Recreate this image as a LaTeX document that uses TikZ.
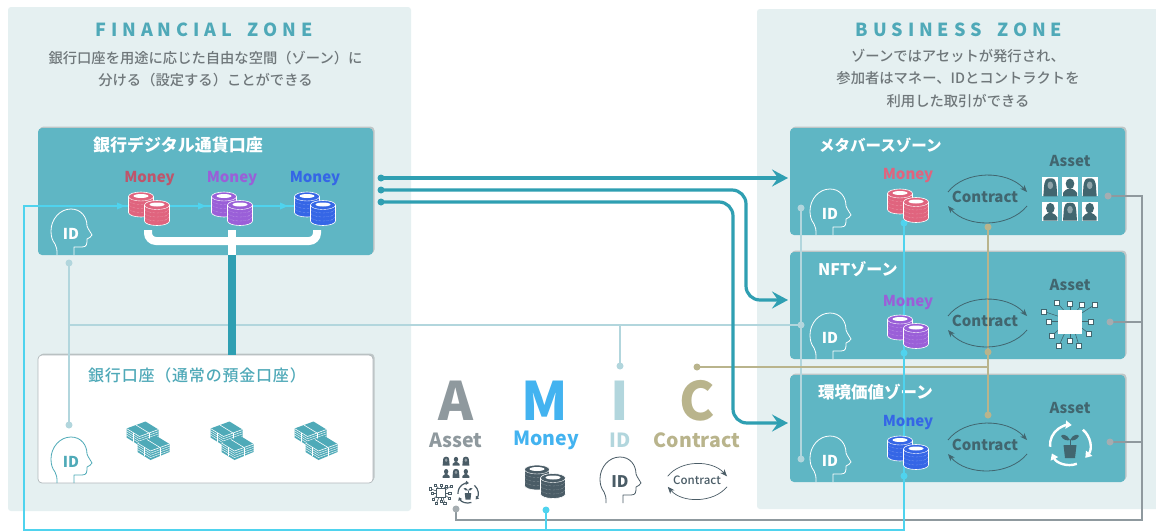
\documentclass[tikz,border=0pt]{standalone}
\usepackage{fontspec}
\setmainfont{Noto Sans CJK JP}
\newfontfamily\cjk{Noto Sans CJK JP}
\newfontfamily\cjkm{Noto Sans CJK JP Medium}
\newfontfamily\cjkw[LetterSpace=5]{Noto Sans CJK JP Medium}
\newfontfamily\spaced[LetterSpace=27]{Noto Sans CJK JP}
\usetikzlibrary{arrows.meta,shadows,calc}
\definecolor{zonebg}{HTML}{E5F0F1}
\definecolor{boxteal}{HTML}{5FB6C4}
\definecolor{thickteal}{HTML}{2F9FB2}
\definecolor{titleteal}{HTML}{4FA9B8}
\definecolor{captxt}{HTML}{6F777A}
\definecolor{cyanline}{HTML}{4FD3EE}
\definecolor{idline}{HTML}{B2D6DD}
\definecolor{ctline}{HTML}{B9B48C}
\definecolor{asline}{HTML}{8F999E}
\definecolor{darkico}{HTML}{41666F}
\definecolor{legdark}{HTML}{4A5C66}
\definecolor{mpink}{HTML}{E0647E}
\definecolor{mpurple}{HTML}{9A5FD8}
\definecolor{mblue}{HTML}{3566E6}
\definecolor{billteal}{HTML}{4FAAB8}
\tikzset{
  zonebox/.style={fill=zonebg,draw=none,rounded corners=3,inner sep=0},
  acctbox/.style={fill=boxteal,draw=none,rounded corners=4,inner sep=0,
    drop shadow={shadow xshift=1.5,shadow yshift=-1.5,opacity=.3,fill=black!60}},
  plainbox/.style={fill=white,draw=asline!70,line width=.7,rounded corners=4,inner sep=0,
    drop shadow={shadow xshift=1.5,shadow yshift=-1.5,opacity=.3,fill=black!60}},
  ztitle/.style={text=titleteal,font=\spaced\fontsize{18}{20}\selectfont\bfseries,inner sep=0},
  zcap/.style={text=captxt,font=\cjkm\fontsize{14.3}{22.5}\selectfont,align=center,inner sep=0},
  boxname/.style={text=white,font=\cjk\fontsize{15.5}{18}\selectfont\bfseries,inner sep=0,anchor=west},
  ltr/.style={font=\cjk\fontsize{15}{18}\selectfont\bfseries,inner sep=0},
  bigletter/.style={font=\cjk\fontsize{53}{60}\selectfont\bfseries,inner sep=0},
  legword/.style={font=\cjk\fontsize{19.5}{22}\selectfont\bfseries,inner sep=0},
  dot/.style={circle,inner sep=0,minimum size=#1},
  dot/.default=7,
  thickarrow/.style={draw=thickteal,line width=3.2,rounded corners=14,-{Stealth[length=16,width=17,inset=6]}},
  cline/.style={draw=cyanline,line width=1.3},
  iline/.style={draw=idline,line width=1.3},
  tline/.style={draw=ctline,line width=1.3},
  aline/.style={draw=asline,line width=1.3},
}
\newcommand\headicon[5]{%
  \begin{scope}[shift={(#1,#2)}]
    \draw[#3,line width=.8,line join=round]
      (6,0) .. controls (6,-5) and (6,-8) .. (4,-11)
      .. controls (1,-15) and (0,-19) .. (0,-24)
      .. controls (0,-36) and (9,-46) .. (20,-46)
      .. controls (30,-46) and (36,-38) .. (36,-29)
      .. controls (37,-26) and (40,-22) .. (41,-20)
      .. controls (40,-18) and (38,-17) .. (36,-16)
      .. controls (36,-11) and (36,-8) .. (31,-8)
      -- (23,-8) -- (23,0);
    \node[text=#4,font=\cjk\fontsize{#5}{#5}\selectfont\bfseries,inner sep=0] at (20,-21) {ID};
  \end{scope}}
\newcommand\onestack[2]{%
  \filldraw[fill=#1,draw=white,line width=.6] (-12.5,-7) -- (-12.5,9) arc [start angle=180,end angle=0,x radius=12.5,y radius=4.5] -- (12.5,-7) arc [start angle=0,end angle=-180,x radius=12.5,y radius=4.5] -- cycle;
  \foreach \yy in {-3,1,5}{
    \draw[white!70!#1,line width=.35,densely dotted] (-12,\yy) arc [start angle=180,end angle=0,x radius=12,y radius=4];
  }
  \draw[white,line width=.4] (-12.5,-7) arc [start angle=180,end angle=0,x radius=12.5,y radius=4.5];
  \fill[#2] (0,-7.5) ellipse [x radius=7.5,y radius=2];
}
\newcommand\coins[5]{%
  \begin{scope}[shift={(#1,#2)},scale=#3]
    \begin{scope}[shift={(-8,-4.5)}]\onestack{#4}{#5}\end{scope}
    \begin{scope}[shift={(8,4)}]\onestack{#4}{#5}\end{scope}
  \end{scope}}
\newcommand\onebill{%
  \fill[billteal] (-16,-4) -- (3,-11) -- (16,-3) -- (16,5) -- (-3,13) -- (-16,5) -- cycle;
  \foreach \dd in {2.2,4.4,6.6}{
    \draw[white,line width=.4] (-16,-4+\dd) -- (-3,4+\dd) -- (16,-3+\dd);
  }
  \draw[white,line width=.6,line join=round] (-16,-4) -- (-3,4) -- (16,-3);
  \draw[white,line width=.6] (-6.5,-7.5) -- (6.5,.5);
  \draw[white,line width=.6] (6.5,.5) -- (6.5,9);
  \draw[white,line width=.6] (-9.5,0) -- (-9.5,9);
}
\newcommand\bills[2]{%
  \begin{scope}[shift={(#1,#2)}]
    \begin{scope}[shift={(-5.5,-7.5)}]\onebill\end{scope}
    \begin{scope}[shift={(5.5,7)}]\onebill\end{scope}
  \end{scope}}
\newcommand\contractarcs[5]{%
  \begin{scope}[shift={(#1,#2)},scale=#3]
    \draw[#4,line width=#5,-{Stealth[length=7,width=5.5,inset=2]}] (-39,-5) .. controls (-22,-27) and (20,-27) .. (40,-5);
    \draw[#4,line width=#5,-{Stealth[length=7,width=5.5,inset=2]}] (40,9) .. controls (22,31) and (-20,31) .. (-39,9);
  \end{scope}}
\newcommand\man[3]{\begin{scope}[shift={(#1,#2)}]
  \fill[white] (-8,-9.5) rectangle (8,9.5);
  \fill[#3] (-7,9.5) -- (-7,6) .. controls (-6,3) and (-3,3) .. (-2,2) -- (2,2) .. controls (3,3) and (6,3) .. (7,6) -- (7,9.5) -- cycle;
  \fill[#3] (0,-3) ellipse [x radius=4.3,y radius=5.3];
\end{scope}}
\newcommand\woman[3]{\begin{scope}[shift={(#1,#2)}]
  \fill[white] (-8,-9.5) rectangle (8,9.5);
  \fill[#3] (-7,9.5) -- (-6.5,3) .. controls (-6,-8) and (-4,-8.5) .. (0,-8.5) .. controls (4,-8.5) and (6,-8) .. (6.5,3) -- (7,9.5) -- cycle;
  \fill[#3!60] (0,-1.5) ellipse [x radius=2.8,y radius=3.8];
\end{scope}}
\newcommand\people[4]{\begin{scope}[shift={(#1,#2)},scale=#3]
  \woman{-19.7}{-12.2}{#4}\man{0}{-12.2}{#4}\woman{19.7}{-12.2}{#4}
  \man{-19.7}{12.2}{#4}\woman{0}{12.2}{#4}\man{19.7}{12.2}{#4}
\end{scope}}
\newcommand\chip[6]{\begin{scope}[shift={(#1,#2)},scale=#3]
  \foreach \ax/\ay/\bx/\by in {-6/-11/-13/-19,0/-11/0/-18,7/-11/12/-17,11/-8/25/-17,-11/-5/-26/-10,-11/0/-21/0,11/0/21/0,11/6/19/12,-11/8/-18/14,0/11/0/19,-5/11/-11/24,5/11/9/24}{
    \draw[#5,line width=.6] (\ax,\ay) -- (\bx,\by);
    \filldraw[fill=#4,draw=#5,line width=.6] (\bx-2.5,\by-2.5) rectangle (\bx+2.5,\by+2.5);
  }
  \filldraw[fill=#4,draw=#6,line width=.8] (-11.5,-11.5) rectangle (11.5,11.5);
\end{scope}}
\newcommand\plant[5]{\begin{scope}[shift={(#1,#2)},scale=#3]
  \foreach \aa/\bb in {175/275,-50/40,70/155}{
    \draw[#4,line width=#3*2.4,-{Stealth[length=#3*6,width=#3*8,inset=0]}] (\aa:20) arc [start angle=\aa,end angle=\bb,radius=20];
  }
  \fill[#5] (-6.5,0) -- (6.5,0) -- (5,13) -- (-5,13) -- cycle;
  \draw[#5,line width=1] (0,0) -- (0,-5);
  \fill[#5] (0,-5) .. controls (-3,-11) and (-8,-11) .. (-9,-9) .. controls (-7,-5) and (-3,-4) .. (0,-5);
  \fill[#5] (0,-5) .. controls (3,-11) and (8,-11) .. (9,-9) .. controls (7,-5) and (3,-4) .. (0,-5);
\end{scope}}
\begin{document}
\begin{tikzpicture}[x=1pt,y=-1pt]
\useasboundingbox (0,0) rectangle (1156,531);
\fill[white] (0,0) rectangle (1156,531);
\node[zonebox,minimum width=403,minimum height=504] (fzone) at (209.5,259) {};
\node[zonebox,minimum width=402,minimum height=500] (bzone) at (958,259) {};
\node[ztitle] (ftitle) at (204,30) {FINANCIAL\hspace{7pt} ZONE};
\node[ztitle] (btitle) at (959,30) {BUSINESS\hspace{7pt} ZONE};
\node[zcap] (fcap) at (205.5,69) {銀行口座を用途に応じた自由な空間（ゾーン）に\\分ける（設定する）ことができる};
\node[zcap] (bcap) at (958,78) {ゾーンではアセットが発行され、\\参加者はマネー、IDとコントラクトを\\利用した取引ができる};
\node[acctbox,minimum width=335,minimum height=127] (bank) at (205.5,191.5) {};
\node[plainbox,minimum width=335,minimum height=128] (plain) at (205.5,419) {};
\node[acctbox,minimum width=335,minimum height=107] (meta) at (957.5,181.5) {};
\node[acctbox,minimum width=335,minimum height=107] (nft) at (957.5,305.5) {};
\node[acctbox,minimum width=335,minimum height=107] (env) at (957.5,428.5) {};
\node[boxname,font=\cjk\fontsize{17}{18}\selectfont\bfseries] (bankname) at (93,145) {銀行デジタル通貨口座};
\node[boxname,text=titleteal,font=\cjkw\fontsize{16}{18}\selectfont] (plainname) at (88,375) {銀行口座（通常の預金口座）};
\node[boxname] (metaname) at (819,145) {メタバースゾーン};
\node[boxname,font=\cjk\fontsize{16}{18}\selectfont\bfseries] (nftname) at (818,269) {NFTゾーン};
\node[boxname,font=\cjk\fontsize{16.5}{18}\selectfont\bfseries] (envname) at (818,392) {環境価値ゾーン};
\coordinate (ta) at (381,178);
\coordinate (tb) at (381,190);
\coordinate (tc) at (381,202);
\coordinate (ea) at (788,178);
\coordinate (eb) at (788,300);
\coordinate (ec) at (788,423);
\coordinate (bkl) at (148,230);
\coordinate (bkr) at (317,230);
\coordinate (bkm) at (232,230);
\coordinate (bkb) at (232,255);
\coordinate (bkc) at (232,355);
\coordinate (cya) at (300,206);
\coordinate (cyb) at (24,206);
\coordinate (cyc) at (24,530);
\coordinate (cyd) at (904,530);
\coordinate (cye) at (904,223);
\coordinate (cyf) at (904,353);
\coordinate (cyg) at (904,476);
\coordinate (cyh) at (546,510);
\coordinate (cyi) at (546,530);
\coordinate (asa) at (456,509);
\coordinate (asb) at (456,520);
\coordinate (asc) at (1142,520);
\coordinate (asd) at (1142,196);
\coordinate (ase) at (1108,196);
\coordinate (asf) at (1110,322);
\coordinate (asg) at (1142,322);
\coordinate (ash) at (1110,442);
\coordinate (asi) at (1142,442);
\coordinate (ida) at (69,263);
\coordinate (idb) at (69,425);
\coordinate (idc) at (69,325);
\coordinate (idd) at (801,325);
\coordinate (ide) at (801,208);
\coordinate (idf) at (801,459);
\coordinate (idg) at (620,325);
\coordinate (idh) at (620,366);
\coordinate (cta) at (988,227);
\coordinate (ctb) at (988,352);
\coordinate (ctc) at (988,415);
\coordinate (ctd) at (988,367);
\coordinate (cte) at (697,367);
\draw[iline] (ida) -- (idb);
\draw[iline] (idc) -- (idd);
\draw[iline] (ide) -- (idf);
\draw[iline] (idg) -- (idh);
\draw[tline] (cta) -- (ctc);
\draw[tline] (ctd) -- (cte);
\draw[aline] (asa) -- (asb) -- (asc) -- (asd) -- (ase);
\draw[aline] (asf) -- (asg);
\draw[aline] (ash) -- (asi);
\draw[cline] (cya) -- (cyb) -- (cyc) -- (cyd) -- (cye);
\draw[cline] (cyh) -- (cyi);
\draw[thickteal,line width=8] (bkb) -- (bkc);
\draw[white,line width=8,rounded corners=8] (bkl) -- (148,241) -- (317,241) -- (bkr);
\draw[white,line width=8] (bkm) -- (bkb);
\draw[thickarrow] (ta) -- (ea);
\draw[thickarrow] (tb) -- (746,190) -- (746,300) -- (eb);
\draw[thickarrow] (tc) -- (733,202) -- (733,423) -- (ec);
\node[dot,fill=thickteal] (dta) at (ta) {};
\node[dot,fill=thickteal] (dtb) at (tb) {};
\node[dot,fill=thickteal] (dtc) at (tc) {};
\foreach \n/\c in {cye/cfa,cyf/cfb,cyg/cfc,cyh/cfd}{\node[dot,fill=cyanline] (\c) at (\n) {};}
\foreach \n/\c in {asa/afa,ase/afb,asf/afc,ash/afd}{\node[dot,fill=asline!80] (\c) at (\n) {};}
\foreach \n/\c in {ida/ifa,idb/ifb,ide/ifc,idd/ifd,idf/ife,idh/iff}{\node[dot,fill=idline] (\c) at (\n) {};}
\foreach \n/\c in {cta/tfa,ctb/tfb,ctc/tfc,cte/tfd}{\node[dot,fill=ctline] (\c) at (\n) {};}
\foreach \xx in {117,198,280}{
  \fill[cyanline] (\xx,202.5) -- (\xx+8,206) -- (\xx,209.5) -- cycle;
}
\node[ltr,text=mpink!85!black] (mla) at (149.5,179) {Money};
\node[ltr,text=mpurple] (mlb) at (232,179) {Money};
\node[ltr,text=mblue] (mlc) at (315,179) {Money};
\node[ltr,text=mpink] (mld) at (908,176) {Money};
\node[ltr,text=mpurple] (mle) at (908,303) {Money};
\node[ltr,text=mblue] (mlf) at (908,423) {Money};
\coins{149}{208}{1}{mpink}{white}
\coins{232}{208}{1}{mpurple}{white}
\coins{315}{208}{1}{mblue}{white}
\coins{908}{205}{1}{mpink}{white}
\coins{908}{331}{1}{mpurple}{white}
\coins{908}{452}{1}{mblue}{white}
\bills{148}{440}
\bills{232}{440}
\bills{316}{440}
\headicon{51}{255}{white}{white}{15}
\headicon{51}{483}{billteal}{billteal}{15}
\headicon{810}{235}{white}{white}{15}
\headicon{810}{359}{white}{white}{15}
\headicon{810}{482}{white}{white}{15}
\headicon{600}{503}{legdark}{legdark}{16}
\contractarcs{987}{197}{1}{darkico}{.8}
\contractarcs{987}{321}{1}{darkico}{.8}
\contractarcs{987}{445}{1}{darkico}{.8}
\contractarcs{697}{480}{.75}{legdark}{.7}
\node[ltr,text=darkico] (cna) at (985,197) {Contract};
\node[ltr,text=darkico] (cnb) at (985,321) {Contract};
\node[ltr,text=darkico] (cnc) at (985,445) {Contract};
\node[font=\cjkm\fontsize{11.5}{12}\selectfont,text=legdark,inner sep=0] (cnd) at (697,480) {Contract};
\node[ltr,text=darkico] (asta) at (1070,161) {Asset};
\node[ltr,text=darkico] (astb) at (1070,285) {Asset};
\node[ltr,text=darkico] (astc) at (1070,408) {Asset};
\people{1070}{199}{1}{darkico}
\chip{1070}{321.5}{1}{white}{darkico}{white}
\plant{1070}{445}{1}{white}{darkico}
\people{456}{467}{.5}{legdark}
\chip{441}{493}{.42}{white}{legdark}{legdark}
\plant{468}{493}{.5}{legdark}{legdark}
\coins{545}{481}{1}{legdark}{white}
\node[bigletter,text=asline] (la) at (456,401) {A};
\node[bigletter,text=cyanline!85!blue] (lm) at (545,401) {M};
\node[bigletter,text=idline] (li) at (620,401) {I};
\node[bigletter,text=ctline] (lc) at (697,401) {C};
\node[legword,text=asline] (wa) at (456,440) {Asset};
\node[legword,text=cyanline!85!blue] (wm) at (546,440) {Money};
\node[legword,text=idline] (wi) at (620,440) {ID};
\node[legword,text=ctline] (wc) at (697,440) {Contract};
\end{tikzpicture}
\end{document}
